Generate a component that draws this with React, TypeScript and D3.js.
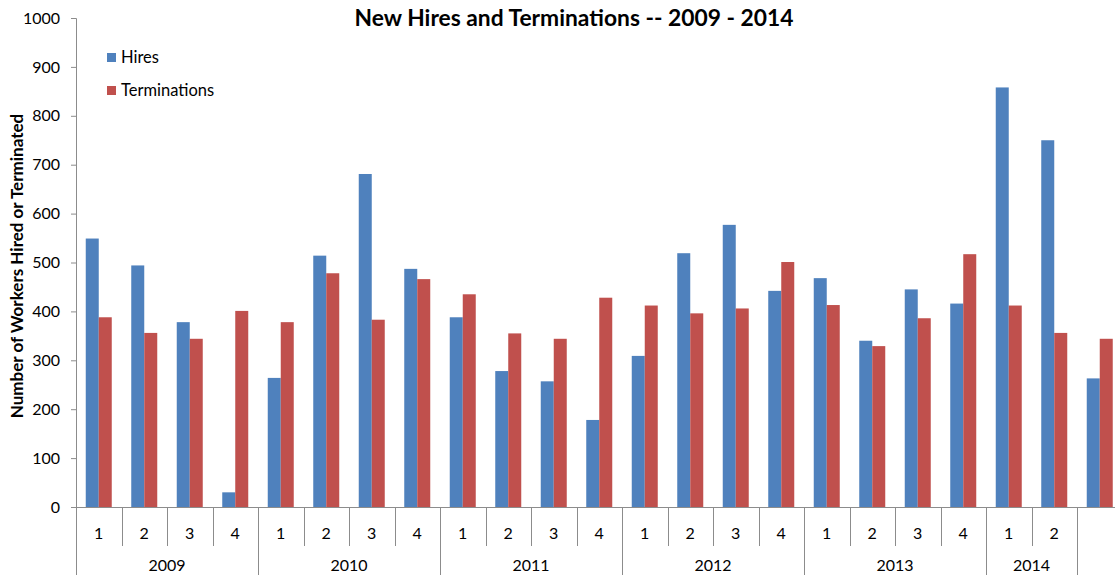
import React, { useEffect, useRef } from 'react';
import * as d3 from 'd3';

// Quarter labels, one per category (last category has no label)
const quarters = ['1', '2', '3', '4', '1', '2', '3', '4', '1', '2', '3', '4', '1', '2', '3', '4', '1', '2', '3', '4', '1', '2', ''];
const yearLabels = ['2009', '2010', '2011', '2012', '2013', '2014', ''];
const yearSpans = [4, 4, 4, 4, 4, 2, 1];

const hires = [549, 494, 378, 30, 264, 514, 681, 487, 388, 278, 257, 178, 309, 519, 577, 442, 468, 340, 445, 416, 858, 750, 263];
const terminations = [388, 356, 344, 401, 378, 478, 383, 466, 435, 355, 344, 428, 412, 396, 406, 501, 413, 329, 386, 517, 412, 356, 344];

const seriesNames = ['Hires', 'Terminations'];
const yTicks = [0, 100, 200, 300, 400, 500, 600, 700, 800, 900, 1000];

const W = 1115;
const H = 575;
const FONT = 'Lato, "Liberation Sans", sans-serif';

const App = () => {
  const svgRef = useRef<SVGSVGElement | null>(null);

  useEffect(() => {
    if (!svgRef.current) return;
    const svg = d3.select(svgRef.current);
    svg.selectAll('*').remove();

    const left = 76;
    const step = 45.5;
    const bottom = 507;
    const top = 18;

    const idx = quarters.map((_, i) => i);
    const x0 = d3.scaleBand<number>()
      .domain(idx)
      .range([left, left + step * quarters.length])
      .paddingInner(0)
      .paddingOuter(0);

    const x1 = d3.scaleBand<string>()
      .domain(seriesNames)
      .range([0, x0.bandwidth()])
      .paddingInner(0)
      .paddingOuter(0.75);

    const y = d3.scaleLinear().domain([0, 1000]).range([bottom, top]);

    const color = d3.scaleOrdinal<string, string>()
      .domain(seriesNames)
      .range(['#4F81BD', '#C0504D']);

    const axisColor = '#8c8c8c';

    // Title
    svg.append('text')
      .attr('x', 574)
      .attr('y', 26)
      .attr('text-anchor', 'middle')
      .style('font-family', FONT)
      .style('font-weight', 'bold')
      .style('font-size', '22.8px')
      .attr('fill', '#000')
      .text('New Hires and Terminations -- 2009 - 2014');

    // Y axis title
    svg.append('text')
      .attr('transform', `translate(23, 266) rotate(-90)`)
      .attr('text-anchor', 'middle')
      .style('font-family', FONT)
      .style('font-weight', 'bold')
      .style('font-size', '17px')
      .attr('fill', '#000')
      .text('Number of Workers Hired or Terminated');

    // Y axis
    const yAxis = svg.append('g')
      .attr('transform', `translate(${left},0)`)
      .call(d3.axisLeft(y).tickValues(yTicks).tickSize(5).tickPadding(11).tickFormat(d3.format('d')));
    yAxis.select('.domain').attr('stroke', axisColor);
    yAxis.selectAll('.tick line').attr('stroke', axisColor);
    yAxis.selectAll('.tick text')
      .style('font-family', FONT)
      .style('font-size', '16px')
      .attr('fill', '#000');

    // Bars
    const groups = svg.append('g')
      .selectAll('g')
      .data(idx)
      .enter()
      .append('g')
      .attr('transform', d => `translate(${x0(d)},0)`);

    groups.selectAll('rect')
      .data(i => [
        { key: 'Hires', value: hires[i] },
        { key: 'Terminations', value: terminations[i] },
      ])
      .enter()
      .append('rect')
      .attr('x', d => x1(d.key) as number)
      .attr('width', x1.bandwidth())
      .attr('y', d => y(d.value))
      .attr('height', d => bottom - y(d.value))
      .attr('fill', d => color(d.key));

    // Category axis line
    svg.append('line')
      .attr('x1', left - 5)
      .attr('x2', left + step * quarters.length)
      .attr('y1', bottom + 0.5)
      .attr('y2', bottom + 0.5)
      .attr('stroke', axisColor);

    // Year boundaries
    const yearStarts: number[] = [];
    let acc = 0;
    yearSpans.forEach(n => { yearStarts.push(acc); acc += n; });

    // Quarter tick marks + labels
    idx.forEach(i => {
      const isYearEdge = yearStarts.includes(i);
      const xx = Math.round(x0(i) as number) + 0.5;
      svg.append('line')
        .attr('x1', xx)
        .attr('x2', xx)
        .attr('y1', bottom)
        .attr('y2', isYearEdge ? H : 546)
        .attr('stroke', axisColor);
      svg.append('text')
        .attr('x', (x0(i) as number) + x0.bandwidth() / 2)
        .attr('y', 539)
        .attr('text-anchor', 'middle')
        .style('font-family', FONT)
        .style('font-size', '16px')
        .attr('fill', '#000')
        .text(quarters[i]);
    });

    yearLabels.forEach((label, k) => {
      const start = x0(yearStarts[k]) as number;
      const w = yearSpans[k] * step;
      svg.append('text')
        .attr('x', start + w / 2)
        .attr('y', 571)
        .attr('text-anchor', 'middle')
        .style('font-family', FONT)
        .style('font-size', '16px')
        .attr('fill', '#000')
        .text(label);
    });

    // Legend
    const legend = svg.append('g').attr('transform', 'translate(107, 53)');
    seriesNames.forEach((name, i) => {
      const item = legend.append('g').attr('transform', `translate(0, ${i * 33})`);
      item.append('rect')
        .attr('width', 9)
        .attr('height', 9)
        .attr('fill', color(name));
      item.append('text')
        .attr('x', 14)
        .attr('y', 10)
        .style('font-family', FONT)
        .style('font-size', '16.5px')
        .attr('fill', '#000')
        .text(name);
    });
  }, []);

  return (
    <div style={{ position: 'absolute', left: 0, top: 0, width: W, height: H, overflow: 'hidden', background: '#fff' }}>
      <svg ref={svgRef} width={W} height={H}></svg>
    </div>
  );
};

export default App;
